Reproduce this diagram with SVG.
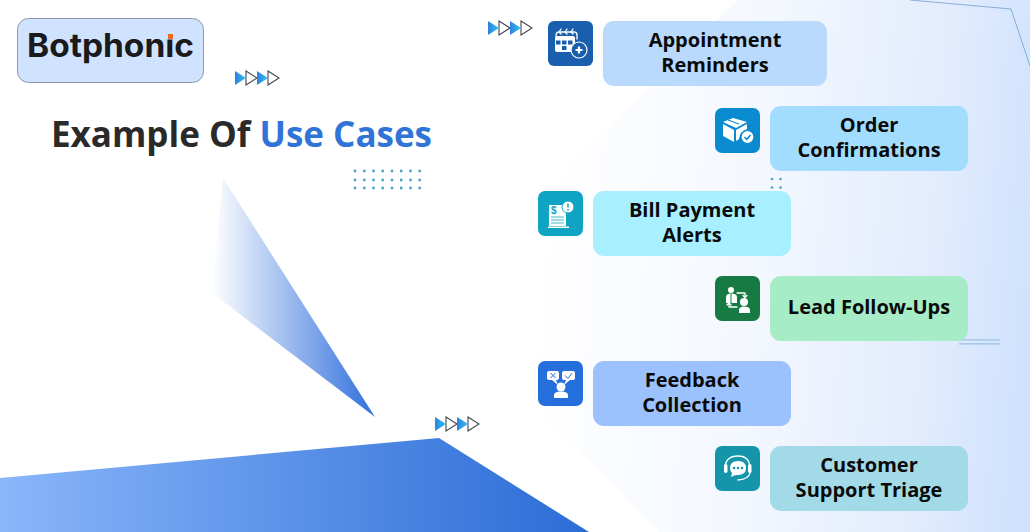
<svg xmlns="http://www.w3.org/2000/svg" width="1030" height="532" viewBox="0 0 1030 532">
<style>
.lbl{font-family:"Open Sans","Noto Sans",sans-serif;font-weight:700;font-size:20px;fill:#0a0a0a;text-anchor:middle}
.ic{fill:#fff;stroke:none}
.il{fill:none;stroke:#fff;stroke-width:1.3;stroke-linecap:round;stroke-linejoin:round}
.hollow{fill:#fff;stroke:#44464f;stroke-width:1.1}
.solid{fill:url(#tri)}
.dot{fill:#4aa5c2}
</style>
<defs>
<linearGradient id="bg" gradientUnits="userSpaceOnUse" x1="540" y1="250" x2="1030" y2="290"><stop offset="0" stop-color="#fff"/><stop offset="0.45" stop-color="#f3f7fe"/><stop offset="0.8" stop-color="#e2ecfd"/><stop offset="1" stop-color="#d0e2fd"/></linearGradient>
<linearGradient id="wedge" gradientUnits="userSpaceOnUse" x1="212" y1="0" x2="375" y2="0"><stop offset="0" stop-color="#fff"/><stop offset="1" stop-color="#2f6fdc"/></linearGradient>
<linearGradient id="floor" gradientUnits="userSpaceOnUse" x1="0" y1="490" x2="590" y2="490"><stop offset="0" stop-color="#8ab6fa"/><stop offset="1" stop-color="#2b6cd6"/></linearGradient>
<linearGradient id="tri" x1="0" y1="0" x2="1" y2="0"><stop offset="0" stop-color="#2f7fe0"/><stop offset="1" stop-color="#2ec5ee"/></linearGradient>
<g id="arrows">
<path class="hollow" d="M11 0L22 7L11 14Z"/><path class="solid" d="M0 0L11 7L0 14Z"/><path class="hollow" d="M33 0L44 7L33 14Z"/><path class="solid" d="M22 0L33 7L22 14Z"/>
</g>
</defs>
<rect width="1030" height="532" fill="#fff"/>
<path d="M737 0L1030 0L1030 532L660 532L432 305Z" fill="url(#bg)"/>
<path d="M910 0L1011 9L1030 66" fill="none" stroke="#6f9fd0" stroke-width="0.8"/>
<path d="M223 178L375 417L212 293Z" fill="url(#wedge)"/>
<path d="M0 478L439 438L589 532L0 532Z" fill="url(#floor)"/>
<g id="logo">
<rect x="17.500" y="18.500" width="186" height="64" rx="11" fill="#cfe2fe" stroke="#8e97ad" stroke-width="1"/>
<text x="27" y="57" font-family="Inter,'Liberation Sans',sans-serif" font-weight="700" font-size="32" fill="#1a1a1c" textLength="167" lengthAdjust="spacingAndGlyphs">Botphonic</text>
<rect x="166.500" y="31" width="8" height="8.500" fill="#cfe2fe"/>
<rect x="168" y="34" width="5" height="5" fill="#f26a1b"/>
</g>
<use href="#arrows" x="235" y="71"/>
<use href="#arrows" x="488" y="21"/>
<use href="#arrows" x="435" y="417"/>
<text x="51" y="147" font-family="'Open Sans','Noto Sans',sans-serif" font-weight="700" font-size="35" fill="#2a2a2a">Example Of <tspan fill="#2f74d6">Use Cases</tspan></text>
<g id="dots1" class="dot">
<circle cx="355" cy="171" r="1.400"/><circle cx="364.300" cy="171" r="1.400"/><circle cx="373.500" cy="171" r="1.400"/><circle cx="382.700" cy="171" r="1.400"/><circle cx="392" cy="171" r="1.400"/><circle cx="401.200" cy="171" r="1.400"/><circle cx="410.500" cy="171" r="1.400"/><circle cx="419.700" cy="171" r="1.400"/>
<circle cx="355" cy="180" r="1.400"/><circle cx="364.300" cy="180" r="1.400"/><circle cx="373.500" cy="180" r="1.400"/><circle cx="382.700" cy="180" r="1.400"/><circle cx="392" cy="180" r="1.400"/><circle cx="401.200" cy="180" r="1.400"/><circle cx="410.500" cy="180" r="1.400"/><circle cx="419.700" cy="180" r="1.400"/>
<circle cx="355" cy="188" r="1.400"/><circle cx="364.300" cy="188" r="1.400"/><circle cx="373.500" cy="188" r="1.400"/><circle cx="382.700" cy="188" r="1.400"/><circle cx="392" cy="188" r="1.400"/><circle cx="401.200" cy="188" r="1.400"/><circle cx="410.500" cy="188" r="1.400"/><circle cx="419.700" cy="188" r="1.400"/>
</g>
<g id="dots2" class="dot"><circle cx="772" cy="179" r="1.300"/><circle cx="780.500" cy="179" r="1.300"/><circle cx="772" cy="187.500" r="1.300"/><circle cx="780.500" cy="187.500" r="1.300"/></g>
<g id="rule" fill="#a9cbe9"><rect x="959" y="339" width="41" height="1.700"/><rect x="959" y="343" width="41" height="1.700"/></g>

<g id="appointment">
<rect x="548" y="21" width="45" height="45" rx="6" fill="#1a5fae"/>
<path class="il" d="M556 36Q556 32 559 32H574Q577 32 577 35V39" stroke-width="1.200"/>
<path class="il" d="M561 29L559 32L561 34M567 29L565 32L567 34M573 29L571 32L573 34" stroke-width="1"/>
<rect x="555" y="36" width="20" height="16" rx="2" class="ic"/>
<g fill="#1a5fae"><rect x="556" y="40.500" width="4.500" height="4"/><rect x="562" y="40.500" width="4.500" height="4"/><rect x="568" y="40.500" width="4.500" height="4"/><rect x="562" y="46" width="4.500" height="4"/></g>
<circle cx="579" cy="50" r="8" fill="#1a5fae" stroke="#fff" stroke-width="1.200"/>
<path d="M579 46.500V53.500M575.500 50H582.500" stroke="#fff" stroke-width="2.200"/>
<rect x="603" y="21" width="224" height="65" rx="11" fill="#b9dafd"/>
<text class="lbl" x="715" y="47">Appointment</text><text class="lbl" x="715" y="72">Reminders</text>
</g>
<g id="order">
<rect x="715" y="108" width="45" height="45" rx="7" fill="#0a8bcf"/>
<path class="ic" d="M723 124L734 130V142L723 136Z"/>
<path class="ic" d="M736 130L747 124V129Q740 131 739 139L736 141Z"/>
<path class="ic" d="M723 122L733 118L747 122L736 128Z"/>
<path d="M728 120L739 124" stroke="#0a8bcf" stroke-width="1.200"/>
<circle cx="747.500" cy="137" r="6.500" fill="#fff" stroke="#0a8bcf" stroke-width="1.200"/>
<path d="M744.500 137L746.800 139.300L750.500 135" fill="none" stroke="#0a8bcf" stroke-width="1.500"/>
<rect x="770" y="106" width="198" height="65" rx="11" fill="#a2dcfe"/>
<text class="lbl" x="869" y="132">Order</text><text class="lbl" x="869" y="157">Confirmations</text>
</g>
<g id="bill">
<rect x="538" y="191" width="45" height="45" rx="7" fill="#0fa3c4"/>
<path class="ic" d="M549 205H566V226H549Z"/>
<rect x="548" y="226.500" width="21" height="1.500" fill="#fff"/>
<circle cx="568" cy="207" r="6" fill="#fff" stroke="#0fa3c4" stroke-width="1"/>
<path d="M568 203.500V207.500M568 209V210.500" stroke="#0fa3c4" stroke-width="1.500"/>
<text x="551" y="214" font-family="'Liberation Sans',sans-serif" font-weight="700" font-size="10" fill="#0fa3c4">$</text>
<path d="M551 217H564M551 220H564M551 223H564" stroke="#0fa3c4" stroke-width="0.800"/>
<rect x="593" y="191" width="198" height="65" rx="11" fill="#a8f0ff"/>
<text class="lbl" x="692" y="217">Bill Payment</text><text class="lbl" x="692" y="242">Alerts</text>
</g>
<g id="lead">
<rect x="715" y="276" width="45" height="45" rx="7" fill="#167a42"/>
<circle cx="731" cy="290" r="3" class="ic"/><path class="ic" d="M726 303V297Q726 293.500 731 293.500Q737 293.500 737 297V303Z"/>
<path d="M731 294V303" stroke="#167a42" stroke-width="1"/>
<circle cx="744" cy="302" r="4" class="ic"/><path class="ic" d="M739 313V310Q739 306.500 744 306.500Q750 306.500 750 310V313Z"/>
<path class="il" d="M737 293H745V297M743 295.500L745 297.500L747 295.500M737 307H729V304M727 305L729 303L731 305" stroke-width="1"/>
<rect x="770" y="276" width="198" height="65" rx="11" fill="#a6ecc6"/>
<text class="lbl" x="869" y="314">Lead Follow-Ups</text>
</g>
<g id="feedback">
<rect x="538" y="361" width="45" height="45" rx="7" fill="#256fdc"/>
<path class="ic" d="M549 371H557Q559 371 559 373V378Q559 380 557 380H556L558 385L552 380H549Q547 380 547 378V373Q547 371 549 371Z"/>
<path class="ic" d="M564 371H573Q575 371 575 373V378Q575 380 573 380H570L564 385L566 380H564Q562 380 562 378V373Q562 371 564 371Z"/>
<path d="M550.500 373L555.500 378M555.500 373L550.500 378" stroke="#256fdc" stroke-width="1"/>
<path d="M565 375.500L568 378.500L572 373" fill="none" stroke="#256fdc" stroke-width="1"/>
<circle cx="561" cy="387" r="4.500" class="ic"/><path class="ic" d="M554 398V395Q554 391.500 561 391.500Q568 391.500 568 395V398Z"/>
<rect x="593" y="361" width="198" height="65" rx="11" fill="#9cc2fd"/>
<text class="lbl" x="692" y="387">Feedback</text><text class="lbl" x="692" y="412">Collection</text>
</g>
<g id="support">
<rect x="715" y="446" width="45" height="45" rx="7" fill="#1595a9"/>
<path class="ic" d="M738 461Q746 461 746 468Q746 475 738 475Q735 475 733 476L731 477L732 473Q730 471 730 468Q730 461 738 461Z"/>
<path class="il" d="M725 469Q725 456 738 456Q750 456 750 469V473Q749 479 738 480" stroke-width="1.500"/>
<rect x="724" y="464" width="3.500" height="9" rx="1.700" class="ic"/><rect x="748" y="464" width="3.500" height="9" rx="1.700" class="ic"/>
<g fill="#1595a9"><circle cx="734" cy="468" r="1.300"/><circle cx="738" cy="468" r="1.300"/><circle cx="742" cy="468" r="1.300"/></g>
<rect x="770" y="446" width="198" height="65" rx="11" fill="#a2dae8"/>
<text class="lbl" x="869" y="472">Customer</text><text class="lbl" x="869" y="497">Support Triage</text>
</g>
</svg>
